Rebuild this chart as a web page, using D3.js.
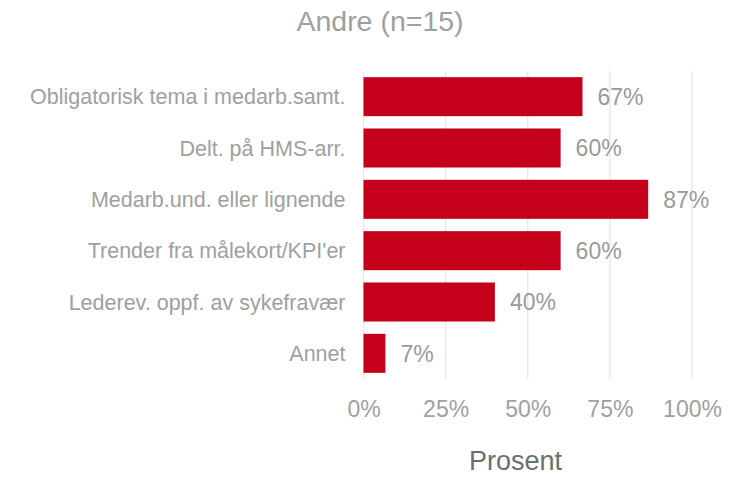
<!DOCTYPE html>
<html>
<head>
<meta charset="utf-8">
<script src="https://cdn.jsdelivr.net/npm/d3@7/dist/d3.min.js"></script>
<style>
  html, body { margin: 0; padding: 0; background: #fff; }
  svg { display: block; font-family: "Liberation Sans", Arial, Helvetica, sans-serif; }
</style>
</head>
<body>
<svg id="chart" width="741" height="477"></svg>
<script>
// Share of respondents in "Andre" (n = 15) per follow-up practice
const title = "Andre (n=15)";
const categories = [
  "Obligatorisk tema i medarb.samt.",
  "Delt. på HMS-arr.",
  "Medarb.und. eller lignende",
  "Trender fra målekort/KPI'er",
  "Lederev. oppf. av sykefravær",
  "Annet"
];
const counts = [10, 9, 13, 9, 6, 1];
const n = 15;
const values = counts.map(c => c / n);
const ticks = [0, 0.25, 0.5, 0.75, 1];
const axisTitle = "Prosent";

const svg = d3.select("#chart");
const plot = { left: 363.5, right: 692, top: 71, bottom: 379 };

const x = d3.scaleLinear().domain([0, 1]).range([plot.left, plot.right]);
const y = d3.scaleBand().domain(categories).range([plot.top, plot.bottom]).paddingInner(0.24).paddingOuter(0.12);

// gridlines
svg.append("g")
  .selectAll("line")
  .data(ticks)
  .join("line")
  .attr("x1", d => x(d)).attr("x2", d => x(d))
  .attr("y1", plot.top).attr("y2", plot.bottom)
  .attr("stroke", "#e6e6e6")
  .attr("stroke-width", 1.3);

// bars
svg.append("g")
  .selectAll("rect")
  .data(values)
  .join("rect")
  .attr("x", x(0))
  .attr("y", (d, i) => y(categories[i]))
  .attr("width", d => x(d) - x(0))
  .attr("height", y.bandwidth())
  .attr("fill", "#c4001a");

// value labels
svg.append("g")
  .selectAll("text")
  .data(values)
  .join("text")
  .attr("x", d => x(d) + 15)
  .attr("y", (d, i) => y(categories[i]) + y.bandwidth() / 2)
  .attr("dy", "0.36em")
  .attr("font-size", 23)
  .attr("fill", "#9a9a9a")
  .text(d => Math.round(d * 100) + "%");

// category axis
const yAxis = svg.append("g")
  .attr("transform", `translate(${plot.left - 18},0)`)
  .call(d3.axisLeft(y).tickSize(0).tickPadding(0));
yAxis.select(".domain").remove();
yAxis.selectAll("text")
  .attr("font-size", 21.5)
  .attr("fill", "#a0a0a0")
  .attr("font-family", "'Liberation Sans', Arial, sans-serif")
  .attr("dy", "0.36em");

// value axis
const xAxis = svg.append("g")
  .attr("transform", `translate(0,${plot.bottom})`)
  .call(d3.axisBottom(x).tickValues(ticks).tickFormat(d3.format(".0%")).tickSize(0).tickPadding(0));
xAxis.select(".domain").remove();
xAxis.selectAll("text")
  .attr("font-size", 23)
  .attr("fill", "#a0a0a0")
  .attr("font-family", "'Liberation Sans', Arial, sans-serif")
  .attr("dy", null)
  .attr("y", 37.5);

// title
svg.append("text")
  .attr("x", 380).attr("y", 31)
  .attr("text-anchor", "middle")
  .attr("font-size", 28.5)
  .attr("fill", "#a0a0a0")
  .text(title);

// axis title
svg.append("text")
  .attr("x", 515.5).attr("y", 470)
  .attr("text-anchor", "middle")
  .attr("font-size", 27)
  .attr("fill", "#6e6e6e")
  .text(axisTitle);
</script>
</body>
</html>
